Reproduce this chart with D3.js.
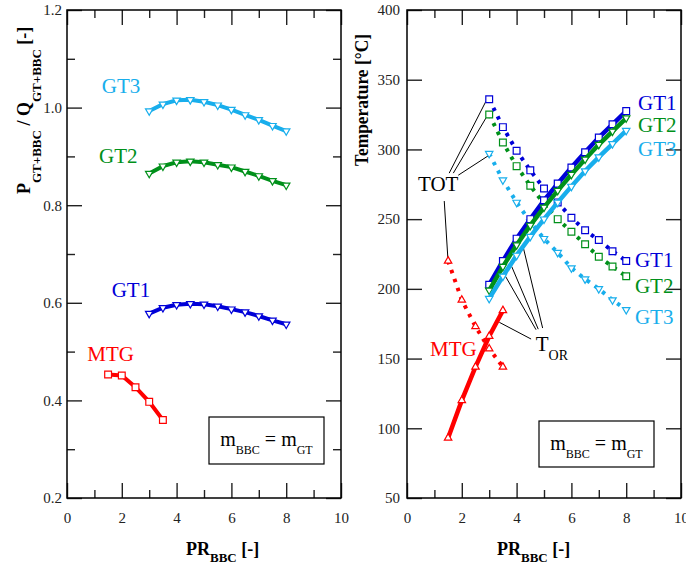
<!DOCTYPE html>
<meta charset="utf-8">
<style>
  body { margin: 0; background: #fff; }
  text { font-family: "Liberation Serif", "DejaVu Serif", serif; }
</style>
<body>
<div id="my_dataviz"></div>
<script src="https://d3js.org/d3.v7.min.js"></script>
<script>

// ---- data ----
const prGT  = [3, 3.5, 4, 4.5, 5, 5.5, 6, 6.5, 7, 7.5, 8];
const prMTG = [1.5, 2, 2.5, 3, 3.5];

// left panel: P / Q [-]
const effGT1 = [0.578, 0.590, 0.596, 0.598, 0.597, 0.593, 0.587, 0.581, 0.573, 0.564, 0.556];
const effGT2 = [0.865, 0.880, 0.888, 0.890, 0.888, 0.883, 0.878, 0.869, 0.860, 0.850, 0.841];
const effGT3 = [0.993, 1.007, 1.015, 1.016, 1.012, 1.005, 0.996, 0.985, 0.975, 0.963, 0.952];
const effMTG = [0.453, 0.451, 0.427, 0.397, 0.360];

// right panel: temperatures [°C]
const totGT1 = [336, 316, 299, 285, 272, 262, 251, 242, 235, 227, 220];
const totGT2 = [325, 305, 288, 274, 261, 250, 241, 232, 223, 216, 209];
const totGT3 = [297, 278, 262, 248, 236, 226, 215, 207, 200, 192, 185];
const totMTG = [220, 192, 173, 157, 144];
const torGT1 = [203, 220, 236, 250, 263.5, 275.5, 287, 298, 308.5, 318, 327.5];
const torGT2 = [199, 216, 231.5, 245.5, 258.5, 270.5, 282, 293, 303.5, 313, 322.5];
const torGT3 = [193, 209, 224, 237.5, 250, 262, 273.5, 284.5, 294.5, 304, 313.5];
const torMTG = [93, 120, 144, 166, 184.5];

const xTicks = [0, 2, 4, 6, 8, 10];
const xMinor = [1, 3, 5, 7, 9];
const yTicksL = [0.2, 0.4, 0.6, 0.8, 1.0, 1.2];
const yMinorL = [0.3, 0.5, 0.7, 0.9, 1.1];
const yTicksR = [50, 100, 150, 200, 250, 300, 350, 400];

const cBlue = "#0000d8", cGreen = "#00901a", cCyan = "#18aeec", cRed = "#ff0000";

// ---- page ----
const W = 686, H = 564;
const svg = d3.select("#my_dataviz").append("svg")
  .attr("width", W).attr("height", H);

const plotTop = 10, plotBottom = 498;

function panel(x0, x1, yDomain, yMajor, yMinor, yFmt, yPad) {
  const g = svg.append("g").attr("transform", `translate(${x0},${plotTop})`);
  const w = x1 - x0, h = plotBottom - plotTop;
  const x = d3.scaleLinear().domain([0, 10]).range([0, w]);
  const y = d3.scaleLinear().domain(yDomain).range([h, 0]);

  // major ticks + labels
  g.append("g").attr("class", "ax").attr("transform", `translate(0,${h})`)
    .call(d3.axisBottom(x).tickValues(xTicks).tickSize(-15).tickPadding(14).tickFormat(d3.format("d")));
  g.append("g").attr("class", "ax")
    .call(d3.axisTop(x).tickValues(xTicks).tickSize(-15).tickFormat(""));
  g.append("g").attr("class", "ax")
    .call(d3.axisLeft(y).tickValues(yMajor).tickSize(-15).tickPadding(yPad).tickFormat(yFmt));
  g.append("g").attr("class", "ax").attr("transform", `translate(${w},0)`)
    .call(d3.axisRight(y).tickValues(yMajor).tickSize(-15).tickFormat(""));
  // minor ticks
  g.append("g").attr("class", "ax").attr("transform", `translate(0,${h})`)
    .call(d3.axisBottom(x).tickValues(xMinor).tickSize(-8).tickFormat(""));
  g.append("g").attr("class", "ax")
    .call(d3.axisTop(x).tickValues(xMinor).tickSize(-8).tickFormat(""));
  if (yMinor.length) {
    g.append("g").attr("class", "ax")
      .call(d3.axisLeft(y).tickValues(yMinor).tickSize(-8).tickFormat(""));
    g.append("g").attr("class", "ax").attr("transform", `translate(${w},0)`)
      .call(d3.axisRight(y).tickValues(yMinor).tickSize(-8).tickFormat(""));
  }
  g.selectAll(".ax .domain").remove();
  g.selectAll(".ax line").attr("stroke", "#222").attr("stroke-width", 1.4);
  g.selectAll(".ax text").attr("font-family", "Liberation Serif").attr("font-size", 15).attr("fill", "#222");

  g.append("rect").attr("width", w).attr("height", h)
    .attr("fill", "none").attr("stroke", "#000").attr("stroke-width", 1.5);
  return {g, x, y, w, h};
}

function series(p, xs, ys, color, marker, dashed, lw) {
  const pts = xs.map((d, i) => [d, ys[i]]);
  p.g.append("path").datum(pts)
    .attr("fill", "none").attr("stroke", color).attr("stroke-width", lw)
    .attr("stroke-dasharray", dashed ? "3.5,6" : null)
    .attr("d", d3.line().x(d => p.x(d[0])).y(d => p.y(d[1])));
  let sym;
  if (marker === "sq") sym = d3.symbol(d3.symbolSquare, 46);
  else sym = d3.symbol(d3.symbolTriangle, 24);
  p.g.selectAll(null).data(pts).join("path")
    .attr("d", sym)
    .attr("transform", d => `translate(${p.x(d[0])},${p.y(d[1])})` + (marker === "tdown" ? " rotate(180)" : ""))
    .attr("fill", "#fff").attr("stroke", color).attr("stroke-width", 1.2);
}

function label(p, px, py, txt, color, size) {
  p.g.append("text").attr("x", p.x(px)).attr("y", p.y(py))
    .attr("font-size", size || 21).attr("fill", color).text(txt);
}

function legendBox(p, bx, by, bw, bh) {
  p.g.append("rect").attr("x", bx).attr("y", by).attr("width", bw).attr("height", bh)
    .attr("fill", "#fff").attr("stroke", "#000").attr("stroke-width", 1.2);
  const t = p.g.append("text").attr("x", bx + bw / 2).attr("y", by + 29)
    .attr("text-anchor", "middle").attr("font-size", 20).attr("fill", "#000");
  t.append("tspan").text("m");
  t.append("tspan").attr("font-size", 12).attr("dy", 8).text("BBC");
  t.append("tspan").attr("dy", -8).text(" = m");
  t.append("tspan").attr("font-size", 12).attr("dy", 8).text("GT");
}

// ---- left panel ----
const L = panel(67, 341, [0.2, 1.2], yTicksL, yMinorL, d3.format(".1f"), 5);
series(L, prGT, effGT3, cCyan, "tdown", false, 4);
series(L, prGT, effGT2, cGreen, "tdown", false, 4);
series(L, prGT, effGT1, cBlue, "tdown", false, 4);
series(L, prMTG, effMTG, cRed, "sq", false, 4);
label(L, 1.27, 1.030, "GT3", cCyan);
label(L, 1.17, 0.886, "GT2", cGreen);
label(L, 1.63, 0.6125, "GT1", cBlue);
label(L, 0.74, 0.481, "MTG", cRed);
legendBox(L, 142, 407, 115, 47);

// ---- right panel ----
const R = panel(407, 681, [50, 400], yTicksR, [], d3.format("d"), 7);

// annotation pointers (data coordinates)
const totPtr = [[[1.54, 283], [2.88, 334.5]], [[1.69, 283], [2.88, 322.5]],
                [[1.87, 281.5], [2.97, 295.5]], [[1.36, 263], [1.49, 222.5]]];
const torPtr = [[[4.53, 164], [3.37, 176]], [[4.71, 170.7], [3.58, 209.5]],
                [[4.79, 171.1], [3.82, 216.1]], [[4.95, 171.9], [4.24, 230]]];
R.g.selectAll(null).data(totPtr.concat(torPtr)).join("line")
  .attr("x1", d => R.x(d[0][0])).attr("y1", d => R.y(d[0][1]))
  .attr("x2", d => R.x(d[1][0])).attr("y2", d => R.y(d[1][1]))
  .attr("stroke", "#000").attr("stroke-width", 1);

series(R, prGT, totGT3, cCyan, "tdown", true, 4);
series(R, prGT, totGT2, cGreen, "sq", true, 4);
series(R, prGT, totGT1, cBlue, "sq", true, 4);
series(R, prMTG, totMTG, cRed, "tup", true, 4);
series(R, prGT, torGT1, cBlue, "sq", false, 4.5);
series(R, prGT, torGT2, cGreen, "tdown", false, 4.5);
series(R, prGT, torGT3, cCyan, "tdown", false, 4.5);
series(R, prMTG, torMTG, cRed, "tup", false, 4.5);

label(R, 8.43, 328.6, "GT1", cBlue);
label(R, 8.43, 312.3, "GT2", cGreen);
label(R, 8.43, 295, "GT3", cCyan);
label(R, 8.32, 216, "GT1", cBlue);
label(R, 8.32, 197, "GT2", cGreen);
label(R, 8.32, 175, "GT3", cCyan);
label(R, 0.84, 151.5, "MTG", cRed);
label(R, 0.4, 270, "TOT", "#000");
const tor = R.g.append("text").attr("x", R.x(4.7)).attr("y", R.y(155.5))
  .attr("font-size", 21).attr("fill", "#000");
tor.append("tspan").text("T");
tor.append("tspan").attr("font-size", 14).attr("dy", 9).text("OR");

legendBox(R, 132, 411, 115, 46);

// ---- axis titles ----
function xTitle(cx) {
  const t = svg.append("text").attr("x", cx).attr("y", 555)
    .attr("font-weight", "bold").attr("font-size", 18).attr("fill", "#000");
  t.append("tspan").text("PR");
  t.append("tspan").attr("font-size", 13).attr("dy", 7).text("BBC");
  t.append("tspan").attr("dy", -7).text("   [-]");
}
xTitle(186);
xTitle(497);

const yl = svg.append("text").attr("transform", "translate(30,194) rotate(-90)")
  .attr("font-weight", "bold").attr("font-size", 18).attr("fill", "#000");
yl.append("tspan").text("P");
yl.append("tspan").attr("font-size", 13).attr("dy", 11).text("GT+BBC");
yl.append("tspan").attr("dy", -11).text("  /  Q");
yl.append("tspan").attr("font-size", 13).attr("dy", 11).text("GT+BBC");
yl.append("tspan").attr("dy", -11).text("  [-]");

svg.append("text").attr("transform", "translate(368,166) rotate(-90)")
  .attr("font-weight", "bold").attr("font-size", 18).attr("fill", "#000")
  .attr("textLength", 132).attr("lengthAdjust", "spacingAndGlyphs")
  .text("Temperature [°C]");

</script>
</body>
